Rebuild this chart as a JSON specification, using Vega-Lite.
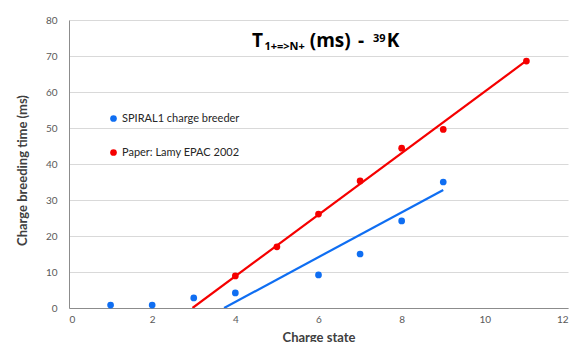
{
  "$schema": "https://vega.github.io/schema/vega-lite/v6.json",
  "width": 499,
  "height": 288,
  "autosize": "none",
  "padding": {"left": 69, "top": 20, "right": 10, "bottom": 34},
  "background": "white",
  "config": {
    "view": {"stroke": null},
    "font": "Lato",
    "axis": {"labelFont": "Lato", "titleFont": "Lato", "labelColor": "#595959", "titleColor": "#404040", "labelFontSize": 10, "titleFontSize": 13, "titleFontWeight": "bold", "domainColor": "#8c8c8c", "gridColor": "#d9d9d9", "ticks": false}
  },
  "datasets": {
    "pts": [
      {"series": "SPIRAL1 charge breeder", "charge": 1, "time": 0.8},
      {"series": "SPIRAL1 charge breeder", "charge": 2, "time": 0.8},
      {"series": "SPIRAL1 charge breeder", "charge": 3, "time": 2.8},
      {"series": "SPIRAL1 charge breeder", "charge": 4, "time": 4.2},
      {"series": "SPIRAL1 charge breeder", "charge": 6, "time": 9.2},
      {"series": "SPIRAL1 charge breeder", "charge": 7, "time": 15},
      {"series": "SPIRAL1 charge breeder", "charge": 8, "time": 24.2},
      {"series": "SPIRAL1 charge breeder", "charge": 9, "time": 35},
      {"series": "Paper: Lamy EPAC 2002", "charge": 4, "time": 8.9},
      {"series": "Paper: Lamy EPAC 2002", "charge": 5, "time": 17},
      {"series": "Paper: Lamy EPAC 2002", "charge": 6, "time": 26.1},
      {"series": "Paper: Lamy EPAC 2002", "charge": 7, "time": 35.3},
      {"series": "Paper: Lamy EPAC 2002", "charge": 8, "time": 44.4},
      {"series": "Paper: Lamy EPAC 2002", "charge": 9, "time": 49.6},
      {"series": "Paper: Lamy EPAC 2002", "charge": 11, "time": 68.6}
    ],
    "trend": [
      {"series": "SPIRAL1 charge breeder", "charge": 3.73, "time": 0},
      {"series": "SPIRAL1 charge breeder", "charge": 9, "time": 32.8},
      {"series": "Paper: Lamy EPAC 2002", "charge": 2.97, "time": 0},
      {"series": "Paper: Lamy EPAC 2002", "charge": 11, "time": 68.7}
    ],
    "title": [
      {"txt": "T", "x": 4.4, "y": 72.5, "size": 19},
      {"txt": "1+=>N+", "x": 4.7, "y": 71.6, "size": 11},
      {"txt": "(ms)", "x": 5.79, "y": 72.5, "size": 19},
      {"txt": "-", "x": 6.95, "y": 72.5, "size": 19},
      {"txt": "39", "x": 7.31, "y": 73.9, "size": 11},
      {"txt": "K", "x": 7.64, "y": 72.5, "size": 19}
    ]
  },
  "encoding": {
    "x": {"field": "charge", "type": "quantitative", "scale": {"domain": [0, 12]}, "axis": {"values": [0, 2, 4, 6, 8, 10, 12], "grid": false, "title": "Charge state", "labelPadding": 6, "titlePadding": 7}},
    "y": {"field": "time", "type": "quantitative", "scale": {"domain": [0, 80]}, "axis": {"values": [0, 10, 20, 30, 40, 50, 60, 70, 80], "title": "Charge breeding time (ms)", "labelPadding": 12, "titlePadding": 16, "titleY": 150}},
    "color": {"field": "series", "type": "nominal", "scale": {"domain": ["SPIRAL1 charge breeder", "Paper: Lamy EPAC 2002"], "range": ["#0f6ef2", "#f50000"]}, "legend": {"title": null, "orient": "none", "legendX": 39, "legendY": 93, "symbolType": "circle", "symbolSize": 45, "labelFontSize": 11, "labelFont": "Lato", "labelColor": "#262626", "rowPadding": 22, "symbolOpacity": 1, "symbolStrokeWidth": 0, "labelOffset": 3}}
  },
  "layer": [
    {
      "data": {"name": "trend"},
      "mark": {"type": "line", "strokeWidth": 2.2, "clip": true},
      "encoding": {"detail": {"field": "series"}}
    },
    {
      "data": {"name": "pts"},
      "mark": {"type": "circle", "size": 45, "opacity": 1}
    },
    {
      "data": {"name": "title"},
      "mark": {"type": "text", "align": "left", "baseline": "alphabetic", "fontWeight": "bold", "font": "Open Sans"},
      "encoding": {
        "x": {"field": "x", "type": "quantitative"},
        "y": {"field": "y", "type": "quantitative"},
        "text": {"field": "txt"},
        "color": {"value": "#000000"},
        "size": {"field": "size", "type": "quantitative", "scale": null}
      }
    }
  ]
}
